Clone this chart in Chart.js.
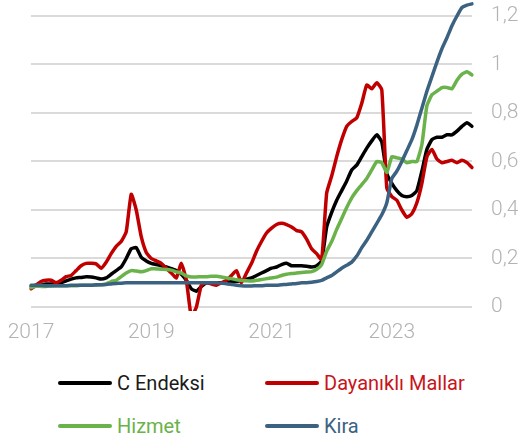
<!DOCTYPE html>
<html>
<head>
<meta charset="utf-8">
<script src="https://cdn.jsdelivr.net/npm/chart.js@4/dist/chart.umd.min.js"></script>
<style>
  html, body { margin: 0; padding: 0; background: #ffffff; }
  #wrap { position: relative; width: 522px; height: 443px; }
  #c { position: absolute; left: 0; top: 0; }
  .lg { position: absolute; height: 26px; display: flex; align-items: center;
        font-family: Roboto, "Noto Sans", sans-serif; font-size: 20px; white-space: nowrap; }
  .lg .ln { display: inline-block; width: 54px; height: 4px; border-radius: 2px; margin-right: 5px; }
</style>
</head>
<body>
<div id="wrap">
  <canvas id="c" width="522" height="345"></canvas>
</div>
<script>
// ---- data (monthly, Jan 2017 - May 2024) ----
const years = [2017, 2018, 2019, 2020, 2021, 2022, 2023, 2024];
const lastMonth2024 = 5;
const xTickLabels = ['2017', '2019', '2021', '2023'];
const yTickValues = [0, 0.2, 0.4, 0.6, 0.8, 1, 1.2];

const seriesNames = ['C Endeksi', 'Dayanıklı Mallar', 'Hizmet', 'Kira'];
const seriesColors = ['#000000', '#c00000', '#6ab24a', '#3c6282'];
const legendTextColors = ['#1a1a1a', '#c8151b', '#6ab24a', '#3c6282'];

const cEndeksi = [
  0.085,0.09,0.09,0.095,0.095,0.1,0.1,0.108,0.115,0.12,0.122,0.125,
  0.124,0.12,0.115,0.12,0.135,0.15,0.165,0.2,0.24,0.245,0.205,0.19,
  0.18,0.175,0.17,0.165,0.158,0.15,0.135,0.11,0.075,0.065,0.085,0.1,
  0.1,0.1,0.1,0.1,0.105,0.105,0.11,0.115,0.12,0.13,0.14,0.15,
  0.16,0.165,0.175,0.18,0.17,0.17,0.17,0.168,0.165,0.17,0.19,0.33,
  0.39,0.44,0.48,0.52,0.565,0.585,0.62,0.655,0.685,0.71,0.68,0.55,
  0.51,0.48,0.46,0.455,0.46,0.48,0.56,0.65,0.69,0.70,0.70,0.71,
  0.71,0.725,0.745,0.76,0.745
];
const dayanikliMallar = [
  0.075,0.09,0.105,0.11,0.11,0.1,0.11,0.125,0.13,0.15,0.17,0.18,
  0.18,0.178,0.16,0.185,0.22,0.25,0.27,0.31,0.465,0.40,0.29,0.225,
  0.2,0.19,0.18,0.16,0.14,0.12,0.18,0.11,-0.04,0.0,0.09,0.1,
  0.095,0.09,0.1,0.11,0.13,0.15,0.1,0.14,0.18,0.23,0.27,0.305,
  0.325,0.34,0.345,0.34,0.33,0.315,0.31,0.28,0.24,0.22,0.195,0.47,
  0.54,0.62,0.69,0.745,0.765,0.78,0.84,0.915,0.90,0.925,0.895,0.49,
  0.455,0.44,0.40,0.37,0.385,0.43,0.51,0.62,0.65,0.61,0.595,0.60,
  0.605,0.595,0.605,0.595,0.575
];
const hizmet = [
  0.08,0.085,0.085,0.085,0.087,0.088,0.088,0.088,0.088,0.088,0.09,0.09,
  0.09,0.09,0.092,0.095,0.105,0.11,0.125,0.14,0.15,0.148,0.145,0.15,
  0.158,0.157,0.156,0.155,0.152,0.145,0.14,0.128,0.124,0.124,0.125,0.125,
  0.127,0.127,0.124,0.12,0.117,0.112,0.11,0.108,0.107,0.11,0.113,0.117,
  0.12,0.123,0.13,0.135,0.138,0.14,0.142,0.144,0.146,0.155,0.175,0.23,
  0.27,0.32,0.365,0.41,0.45,0.48,0.505,0.53,0.565,0.6,0.595,0.555,
  0.62,0.615,0.61,0.595,0.6,0.6,0.67,0.83,0.875,0.89,0.905,0.905,
  0.9,0.935,0.96,0.97,0.957
];
const kira = [
  0.09,0.09,0.09,0.088,0.088,0.088,0.088,0.088,0.09,0.09,0.09,0.09,
  0.09,0.092,0.092,0.093,0.095,0.097,0.098,0.1,0.1,0.1,0.1,0.1,
  0.1,0.1,0.1,0.1,0.1,0.1,0.1,0.1,0.1,0.1,0.1,0.1,
  0.1,0.1,0.098,0.096,0.093,0.09,0.088,0.087,0.087,0.088,0.088,0.09,
  0.09,0.09,0.092,0.093,0.095,0.097,0.1,0.1,0.102,0.105,0.11,0.12,
  0.13,0.145,0.16,0.172,0.185,0.21,0.245,0.275,0.31,0.345,0.38,0.43,
  0.53,0.56,0.60,0.645,0.69,0.75,0.82,0.89,0.95,1.01,1.065,1.11,
  1.16,1.2,1.235,1.245,1.25
];

// month categories
const categories = [];
years.forEach(y => {
  const n = (y === 2024) ? lastMonth2024 : 12;
  for (let m = 1; m <= n; m++) categories.push(y + '-' + String(m).padStart(2, '0'));
});

const seriesData = [cEndeksi, dayanikliMallar, hizmet, kira];
const drawOrder = [3, 2, 1, 0];

const datasets = seriesNames.map((name, i) => ({
  label: name,
  data: seriesData[i],
  borderColor: seriesColors[i],
  backgroundColor: seriesColors[i],
  borderWidth: 3.5,
  pointRadius: 0,
  tension: 0.15,
  fill: false,
  order: drawOrder[i],
  borderCapStyle: 'round',
  borderJoinStyle: 'round'
}));

const tickFont = { family: 'Roboto, "Noto Sans", sans-serif', size: 21, weight: '300' };

new Chart(document.getElementById('c'), {
  type: 'line',
  data: { labels: categories, datasets: datasets },
  options: {
    responsive: false,
    animation: false,
    devicePixelRatio: 1,
    layout: { padding: { left: 31, right: 4, top: 2, bottom: 0 } },
    plugins: { legend: { display: false }, tooltip: { enabled: false } },
    scales: {
      x: {
        type: 'category',
        offset: false,
        grid: { display: false, drawTicks: false },
        border: { display: false },
        ticks: {
          autoSkip: false, maxRotation: 0, minRotation: 0, padding: 9,
          color: '#b3b3b3', font: tickFont,
          callback: function (v) { return categories[v].slice(0, 4); }
        },
        afterBuildTicks: function (scale) {
          const t = [];
          categories.forEach((c, i) => {
            if (c.endsWith('-01') && xTickLabels.includes(c.slice(0, 4))) t.push({ value: i });
          });
          scale.ticks = t;
        },
        afterFit: function (scale) {
          scale.height = 34;
          scale.paddingLeft = 0; scale.paddingRight = 0;
        }
      },
      y: {
        position: 'right',
        min: -0.0165,
        max: 1.2577,
        grid: { color: '#dadada', lineWidth: 2, drawTicks: false },
        border: { display: false },
        ticks: {
          padding: 19, color: '#b3b3b3', font: tickFont,
          callback: function (v) { return String(v).replace('.', ','); }
        },
        afterBuildTicks: function (scale) {
          scale.ticks = yTickValues.map(v => ({ value: v }));
        },
        afterFit: function (scale) {
          scale.width = 46;
          scale.paddingTop = 0; scale.paddingBottom = 0;
        }
      }
    }
  }
});

// legend (two columns)
const legendPos = [[58, 383], [265, 383], [58, 426], [265, 426]];
const wrap = document.getElementById('wrap');
seriesNames.forEach((name, i) => {
  const d = document.createElement('div');
  d.className = 'lg';
  d.style.left = legendPos[i][0] + 'px';
  d.style.top = (legendPos[i][1] - 13) + 'px';
  d.style.color = legendTextColors[i];
  const ln = document.createElement('span');
  ln.className = 'ln';
  ln.style.background = seriesColors[i];
  const tx = document.createElement('span');
  tx.textContent = name;
  d.appendChild(ln);
  d.appendChild(tx);
  wrap.appendChild(d);
});
</script>
</body>
</html>
